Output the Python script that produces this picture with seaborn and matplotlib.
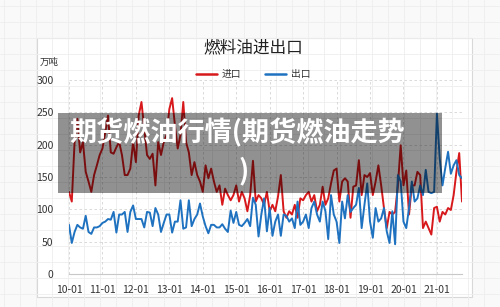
import numpy as np
import pandas as pd
import matplotlib
matplotlib.use("Agg")
import matplotlib.pyplot as plt
import seaborn as sns
from matplotlib.patches import Rectangle

# monthly series, 2010-01 onwards (万吨)
imports = [127, 112, 204, 240, 188, 204, 158, 143, 127, 153, 168, 184,
           194, 220, 245, 188, 186, 196, 204, 184, 153, 153, 163, 204,
           173, 245, 266, 225, 184, 178, 186, 137, 204, 184, 204, 215,
           255, 272, 230, 194, 215, 266, 204, 188, 153, 173, 153, 143,
           127, 168, 148, 163, 143, 127, 137, 107, 132, 122, 114, 122,
           137, 112, 127, 117, 97, 122, 175, 112, 122, 117, 107, 127,
           97, 107, 97, 120, 153, 97, 87, 97, 92, 107, 87, 117,
           114, 122, 127, 112, 122, 97, 107, 135, 107, 117, 140, 160,
           163, 112, 143, 148, 143, 87, 135, 137, 176, 122, 153, 150,
           156, 122, 143, 168, 137, 102, 71, 96, 92, 96, 137, 199,
           137, 160, 92, 137, 137, 158, 153, 71, 81, 71, 61, 102,
           104, 81, 96, 92, 102, 99, 122, 158, 187, 112]
exports = [76, 48, 65, 76, 72, 70, 90, 65, 62, 72, 72, 74,
           79, 81, 85, 84, 96, 64, 92, 92, 96, 65, 96, 106,
           85, 85, 85, 72, 96, 95, 74, 102, 92, 65, 79, 92,
           92, 64, 81, 81, 114, 70, 72, 114, 74, 85, 92, 109,
           89, 74, 63, 76, 76, 72, 72, 77, 70, 65, 98, 79,
           96, 76, 74, 79, 85, 74, 118, 107, 58, 92, 117, 66,
           102, 59, 81, 92, 59, 92, 90, 81, 86, 71, 112, 76,
           81, 92, 71, 102, 112, 92, 81, 112, 97, 54, 122, 92,
           81, 48, 112, 86, 122, 96, 102, 107, 133, 71, 107, 140,
           81, 56, 102, 81, 86, 102, 66, 48, 97, 46, 153, 143,
           81, 71, 102, 143, 112, 117, 137, 122, 161, 127, 125, 127,
           248, 179, 137, 164, 189, 155, 168, 176, 153, 148]
year_labels = ['10-01', '11-01', '12-01', '13-01', '14-01', '15-01',
               '16-01', '17-01', '18-01', '19-01', '20-01', '21-01']
y_ticks = [0, 50, 100, 150, 200, 250, 300]

RED = '#d7191c'
BLUE = '#1f72c0'

sns.set_theme(style="whitegrid")
plt.rcParams['font.family'] = ['Noto Sans CJK SC', 'DejaVu Sans']

n = len(imports)
df = pd.DataFrame({'month': np.arange(n), '进口': imports, '出口': exports})
long = df.melt(id_vars='month', var_name='series', value_name='value')

fig = plt.figure(figsize=(5, 3.07), dpi=100)
fig.patch.set_facecolor('#f9f9f9')

# graph-paper background + white card
bg = fig.add_axes([0, 0, 1, 1], zorder=0)
bg.set_xlim(0, 500)
bg.set_ylim(307, 0)
bg.axis('off')
for gx in np.arange(4, 500, 16):
    bg.axvline(gx, color='#eeeeee', lw=0.6)
for gy in np.arange(6, 307, 16):
    bg.axhline(gy, color='#eeeeee', lw=0.6)
bg.add_patch(Rectangle((37, 38), 435, 259, facecolor='white',
                       edgecolor='#d8d8d8', lw=0.8))

ax = fig.add_axes([69 / 500, 33 / 307, 393 / 500, 194 / 307], zorder=1)
ax.set_facecolor('none')
sns.lineplot(data=long, x='month', y='value', hue='series',
             palette={'进口': RED, '出口': BLUE}, lw=1.4, ax=ax, legend=False)
ax.set_xlim(0, n - 1)
ax.set_ylim(0, 300)
ax.set_xticks(np.arange(0, n, 12))
ax.set_xticklabels(year_labels)
ax.set_yticks(y_ticks)
ax.set_xlabel('')
ax.set_ylabel('')
ax.grid(True, ls=(0, (3, 3)), color='#d4d4d4', lw=0.6)
for s in ['top', 'right', 'left']:
    ax.spines[s].set_visible(False)
ax.spines['bottom'].set_color('#c8c8c8')
ax.spines['bottom'].set_linewidth(0.8)
ax.tick_params(axis='x', length=3, color='#c8c8c8', labelsize=7.5,
               labelcolor='#333333', pad=5)
ax.tick_params(axis='y', length=0, labelsize=7.5, labelcolor='#333333', pad=11)

fig.text(253 / 500, 1 - 48 / 307, '燃料油进出口', ha='center', va='center',
         fontsize=12, color='#222222')
fig.text(49 / 500, 1 - 62 / 307, '万吨', ha='center', va='center',
         fontsize=6.8, color='#333333')

handles = [plt.Line2D([], [], color=RED, lw=1.8),
           plt.Line2D([], [], color=BLUE, lw=1.8)]
fig.legend(handles, ['进口', '出口'], loc='center', ncol=2,
           bbox_to_anchor=(253 / 500, 1 - 74 / 307), frameon=False,
           fontsize=7, handlelength=2.2, handletextpad=0.5,
           columnspacing=2.4, labelcolor='#333333')

# caption overlay band
ov = fig.add_axes([0, 0, 1, 1], zorder=5)
ov.set_xlim(0, 500)
ov.set_ylim(307, 0)
ov.axis('off')
ov.set_facecolor('none')
ov.add_patch(Rectangle((58, 113), 384, 80, facecolor='black', alpha=0.43,
                       edgecolor='none'))
ov.text(237, 133, '期货燃油行情(期货燃油走势', ha='center', va='center',
        fontsize=19.5, fontweight='bold', color='white')
ov.text(244, 171, ')', ha='center', va='center',
        fontsize=19.5, fontweight='bold', color='white')

fig.savefig('out.png', dpi=100, facecolor=fig.get_facecolor())
